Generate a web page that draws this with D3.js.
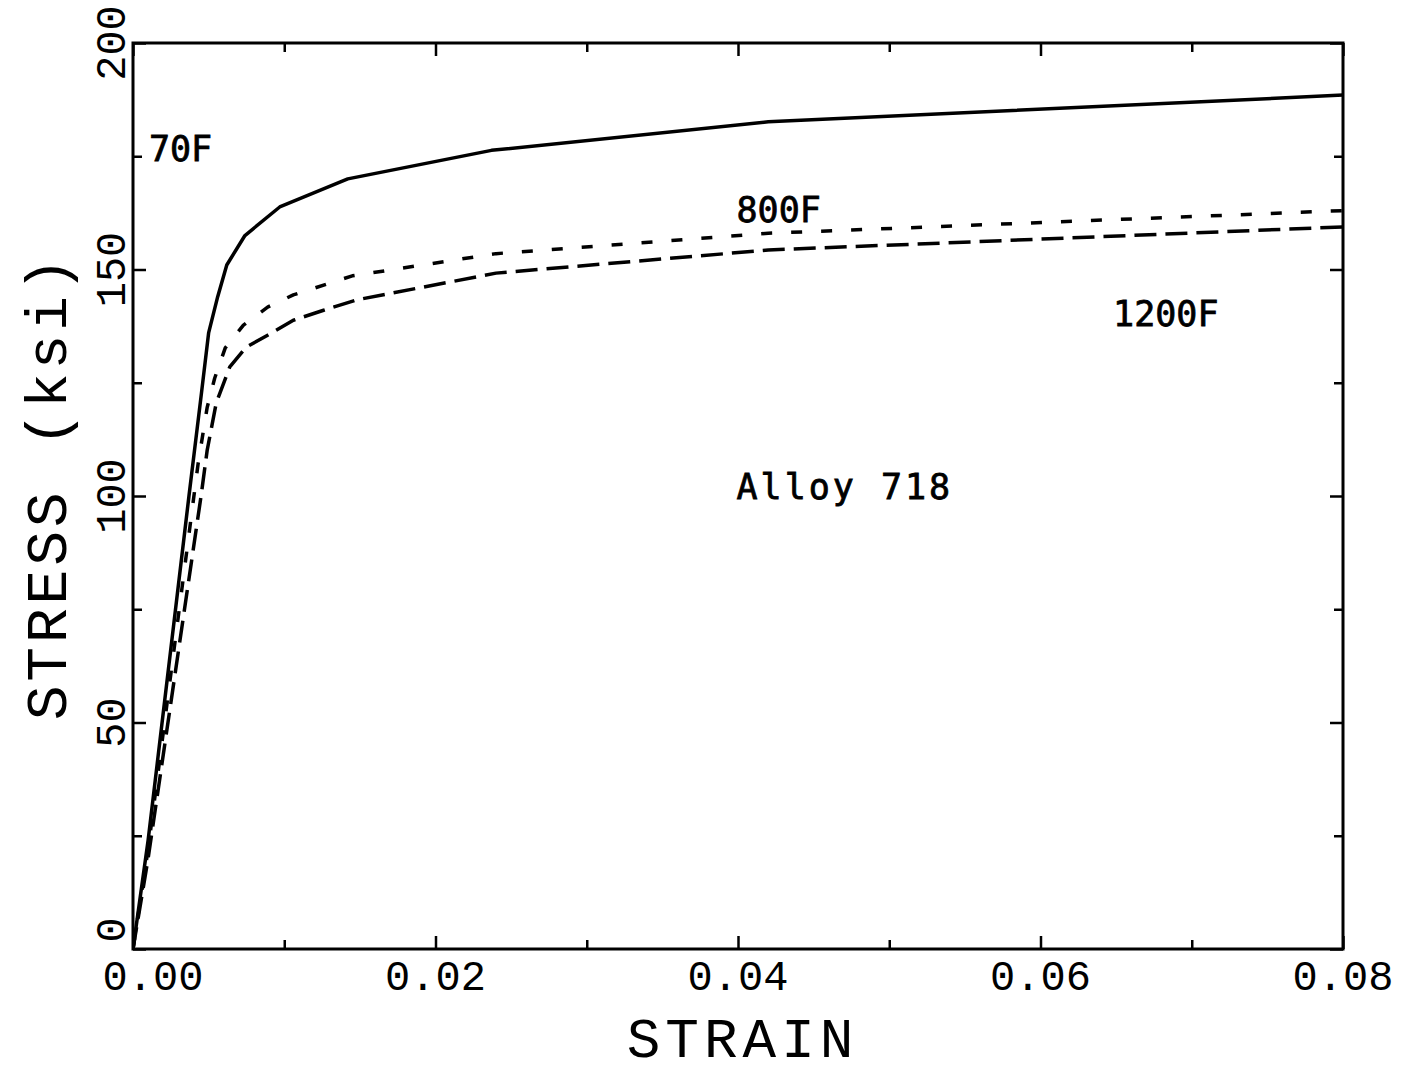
<!DOCTYPE html>
<html>
<head>
<meta charset="utf-8">
<script src="https://cdn.jsdelivr.net/npm/d3@7"></script>
<style>
  html, body { margin: 0; padding: 0; background: #fff; }
  svg { display: block; }
</style>
</head>
<body>
<svg id="chart" width="1404" height="1074"></svg>
<script>
// Stress-strain curves for Alloy 718 at three temperatures
const strain70F   = [0, 0.0010, 0.0037, 0.0045, 0.0050, 0.0056, 0.0062, 0.0074, 0.0097, 0.0142, 0.0237, 0.0420, 0.0800];
const stress70F   = [0, 24, 100, 122, 136, 144, 151, 157.5, 163.8, 170, 176.3, 182.6, 188.5];

const strain800F  = [0, 0.0010, 0.0043, 0.0049, 0.0054, 0.0061, 0.0073, 0.0089, 0.0106, 0.0145, 0.0240, 0.0420, 0.0800];
const stress800F  = [0, 22, 107, 119.5, 126, 132.7, 137.7, 141.7, 144.4, 148.6, 153.5, 158, 163];

const strain1200F = [0, 0.0010, 0.0045, 0.0049, 0.0055, 0.0064, 0.0075, 0.0089, 0.0106, 0.0126, 0.0148, 0.0240, 0.0420, 0.0800];
const stress1200F = [0, 20, 100, 110, 120.5, 128.5, 132.9, 135.5, 138.8, 141, 143.3, 149.2, 154.3, 159.4];

const xTickValues = [0, 0.02, 0.04, 0.06, 0.08];
const xTickLabels = ["0.00", "0.02", "0.04", "0.06", "0.08"];
const xMinorTicks = [0.01, 0.03, 0.05, 0.07];
const yTickValues = [0, 50, 100, 150, 200];
const yTickLabels = ["0", "50", "100", "150", "200"];
const yMinorTicks = [25, 75, 125, 175];

const curveLabels = [
  { text: "70F",  x: 0.00105, y: 174 },
  { text: "800F", x: 0.0399,  y: 160.5 },
  { text: "1200F", x: 0.0648, y: 137.5 }
];

const svg = d3.select("#chart");
const margin = { left: 133, top: 43, right: 61, bottom: 125 };
const W = 1404 - margin.left - margin.right;
const H = 1074 - margin.top - margin.bottom;

const x = d3.scaleLinear().domain([0, 0.08]).range([0, W]);
const y = d3.scaleLinear().domain([0, 200]).range([H, 0]);

const g = svg.append("g").attr("transform", `translate(${margin.left},${margin.top})`);

const tickFont = "'Liberation Mono', 'DejaVu Sans Mono', monospace";
const labelFont = "'DejaVu Sans Mono', 'Liberation Mono', monospace";

// Inward ticks on all four sides
const majorLen = 13, minorLen = 9;
function styleAxis(sel) {
  sel.select(".domain").remove();
  sel.selectAll(".tick line").attr("stroke", "#000").attr("stroke-width", 2.5);
}
g.append("g").attr("transform", `translate(0,${H})`)
  .call(d3.axisBottom(x).tickValues(xTickValues).tickSize(-majorLen).tickFormat(""))
  .call(styleAxis);
g.append("g").attr("transform", `translate(0,${H})`)
  .call(d3.axisBottom(x).tickValues(xMinorTicks).tickSize(-minorLen).tickFormat(""))
  .call(styleAxis);
g.append("g")
  .call(d3.axisTop(x).tickValues(xTickValues).tickSize(-majorLen).tickFormat(""))
  .call(styleAxis);
g.append("g")
  .call(d3.axisTop(x).tickValues(xMinorTicks).tickSize(-minorLen).tickFormat(""))
  .call(styleAxis);
g.append("g")
  .call(d3.axisLeft(y).tickValues(yTickValues).tickSize(-majorLen).tickFormat(""))
  .call(styleAxis);
g.append("g")
  .call(d3.axisLeft(y).tickValues(yMinorTicks).tickSize(-minorLen).tickFormat(""))
  .call(styleAxis);
g.append("g").attr("transform", `translate(${W},0)`)
  .call(d3.axisRight(y).tickValues(yTickValues).tickSize(-majorLen).tickFormat(""))
  .call(styleAxis);
g.append("g").attr("transform", `translate(${W},0)`)
  .call(d3.axisRight(y).tickValues(yMinorTicks).tickSize(-minorLen).tickFormat(""))
  .call(styleAxis);

// Frame
g.append("rect").attr("x", 0).attr("y", 0).attr("width", W).attr("height", H)
  .attr("fill", "none").attr("stroke", "#000").attr("stroke-width", 3);

// X tick labels
g.append("g").selectAll("text").data(xTickValues).join("text")
  .attr("x", (d, i) => x(d) + (i === 0 ? 20 : 0))
  .attr("y", H + 41)
  .attr("text-anchor", "middle")
  .attr("font-family", tickFont)
  .attr("font-size", 42)
  .attr("fill", "#000")
  .text((d, i) => xTickLabels[i]);

// Y tick labels, rotated
g.append("g").selectAll("text").data(yTickValues).join("text")
  .attr("transform", (d, i) => `translate(-8,${y(d) - (i === 0 ? 19 : 0)}) rotate(-90)`)
  .attr("text-anchor", "middle")
  .attr("font-family", tickFont)
  .attr("font-size", 42)
  .attr("fill", "#000")
  .text((d, i) => yTickLabels[i]);

// Axis titles
svg.append("text")
  .attr("x", margin.left + x(0.0403)).attr("y", 1057)
  .attr("text-anchor", "middle")
  .attr("font-family", tickFont)
  .attr("font-size", 56)
  .attr("letter-spacing", 5)
  .attr("fill", "#000")
  .text("STRAIN");

const yTitle = svg.append("text")
  .attr("transform", `translate(66,${margin.top + y(102)}) rotate(-90)`)
  .attr("text-anchor", "middle")
  .attr("font-family", tickFont)
  .attr("font-size", 58)
  .attr("letter-spacing", 3.8)
  .attr("fill", "#000");
yTitle.append("tspan").text("STRESS");
yTitle.append("tspan").attr("dx", 42).text("(ksi)");

// Curves
const clip = svg.append("defs").append("clipPath").attr("id", "plot-clip");
clip.append("rect").attr("x", 0).attr("y", 0).attr("width", W).attr("height", H);

const line = d3.line().x(d => x(d[0])).y(d => y(d[1])).curve(d3.curveLinear);
const series = [
  { strain: strain70F,   stress: stress70F,   dash: null },
  { strain: strain800F,  stress: stress800F,  dash: "11,19" },
  { strain: strain1200F, stress: stress1200F, dash: "22,9" }
];
const curves = g.append("g").attr("clip-path", "url(#plot-clip)");
series.forEach(s => {
  curves.append("path")
    .datum(s.strain.map((v, i) => [v, s.stress[i]]))
    .attr("d", line)
    .attr("fill", "none")
    .attr("stroke", "#000")
    .attr("stroke-width", 3.5)
    .attr("stroke-linejoin", "round")
    .attr("stroke-dasharray", s.dash);
});

// Curve labels
g.append("g").selectAll("text").data(curveLabels).join("text")
  .attr("x", d => x(d.x)).attr("y", d => y(d.y))
  .attr("font-family", labelFont)
  .attr("font-size", 35)
  .attr("stroke", "#000")
  .attr("stroke-width", 0.8)
  .attr("fill", "#000")
  .text(d => d.text);

g.append("text")
  .attr("x", x(0.0399)).attr("y", y(99.3))
  .attr("font-family", labelFont)
  .attr("font-size", 35)
  .attr("letter-spacing", 3)
  .attr("stroke", "#000")
  .attr("stroke-width", 0.8)
  .attr("fill", "#000")
  .text("Alloy 718");
</script>
</body>
</html>
